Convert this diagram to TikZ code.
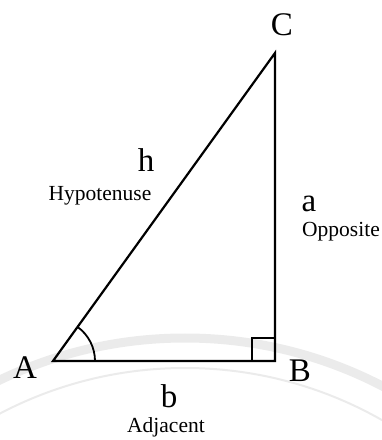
\documentclass[tikz,border=0pt]{standalone}
\usepackage{fontspec}
\setmainfont{Liberation Serif}
\usetikzlibrary{positioning, calc}

\begin{document}
\begin{tikzpicture}[
    x=1pt, y=1pt,
    side/.style={line width=2.2pt, line join=miter},
    anglemark/.style={line width=1.8pt},
    vertex/.style={font=\fontsize{33}{33}\selectfont, inner sep=0pt, anchor=base},
    sidename/.style={font=\fontsize{21.5}{21.5}\selectfont, inner sep=0pt, anchor=base},
    watermark/.style={draw=black!8, line width=9pt}
]
\useasboundingbox (0,0) rectangle (382,440);

% Faint watermark
\begin{scope}
\clip (0,0) rectangle (382,440);
\draw[watermark] (185,-326) circle (428);
\draw[watermark, line width=2pt] (185,-326) circle (398);
\end{scope}

% Vertices
\coordinate (A) at (53,79);
\coordinate (B) at (275,79);
\coordinate (C) at (275,387);

% Triangle
\draw[side] (A) -- (B) -- (C) -- cycle;

% Angle marks
\draw[anglemark] ($(A)+(42,0)$) arc[start angle=0, end angle=54.2, radius=42];
\draw[anglemark] ($(B)+(-23,0)$) -- ++(0,23) -- ++(23,0);

% Vertex labels
\node[vertex] (labA) at (25,61) {A};
\node[vertex] (labB) at (300,58) {B};
\node[vertex] (labC) at (282,404) {C};

% Side labels
\node[vertex] (labh) at (146,268) {h};
\node[sidename] (hyp) at (100,239) {Hypotenuse};
\node[vertex] (laba) at (309,228) {a};
\node[sidename] (opp) at (341,203) {Opposite};
\node[vertex] (labb) at (169,33) {b};
\node[sidename] (adj) at (166,8) {Adjacent};
\end{tikzpicture}
\end{document}
